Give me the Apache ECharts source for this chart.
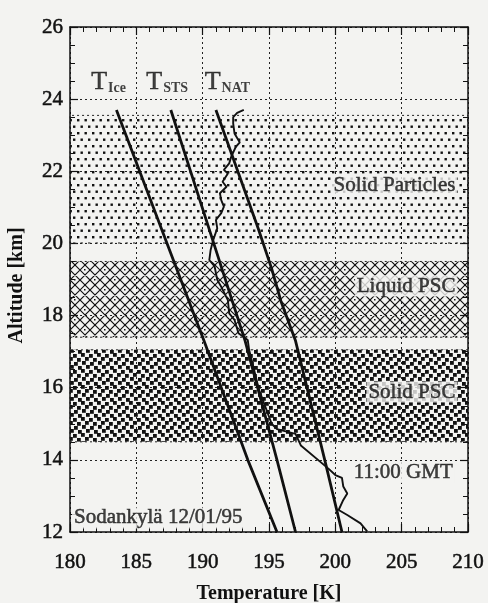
<!DOCTYPE html>
<html><head><meta charset="utf-8">
<script src="https://cdn.jsdelivr.net/npm/echarts@6/dist/echarts.min.js"></script>
<style>html,body{margin:0;padding:0;background:#f3f3f1;} #c{width:488px;height:603px;}</style>
</head><body><div id="c"></div>
<script>
// ---- data ----
const xTicks = [180, 185, 190, 195, 200, 205, 210];
const yTicks = [12, 14, 16, 18, 20, 22, 24, 26];

const tIceTemp = [183.5, 186.9, 190.1, 193.4, 195.6];
const tIceAlt  = [23.7, 20.4, 17.3, 14.0, 12.0];

const tStsTemp = [187.6, 190.4, 193.2, 194.8, 195.6, 197.0];
const tStsAlt  = [23.7, 20.5, 17.3, 15.1, 14.0, 12.0];

const tNatTemp = [191.0, 194.2, 195.2, 195.9, 197.0, 198.4, 199.2, 200.5];
const tNatAlt  = [23.7, 20.4, 19.3, 18.4, 17.3, 15.2, 14.0, 12.0];

const profTemp = [193.1, 192.6, 192.3, 192.3, 192.4, 192.8, 192.5, 192.15, 192.0, 191.6, 191.9, 191.5, 191.8, 191.3, 191.4, 191.6, 191.4, 191.0, 191.1, 190.8, 190.6, 190.5, 190.9, 191.1, 191.4, 191.9, 192.0, 192.4, 192.7, 193.4, 193.5, 194.25, 195.2, 195.6, 197.0, 197.4, 199.5, 200.0, 200.5, 200.6, 200.9, 200.6, 200.25, 200.9, 201.9, 202.4];
const profAlt  = [23.70, 23.62, 23.50, 23.33, 23.05, 22.80, 22.68, 22.40, 22.22, 22.04, 21.94, 21.71, 21.57, 21.39, 21.20, 21.02, 20.84, 20.65, 20.42, 20.10, 19.82, 19.54, 19.36, 18.99, 18.80, 18.43, 18.06, 17.88, 17.51, 17.32, 17.05, 15.94, 15.00, 14.85, 14.72, 14.40, 13.75, 13.58, 13.50, 13.26, 13.07, 12.89, 12.61, 12.47, 12.24, 12.02];

const bandNames  = ['Solid Particles', 'Liquid PSC', 'Solid PSC'];
const bandBottom = [20.0, 17.4, 14.5];
const bandTop    = [23.55, 19.5, 17.05];

const curveNames = ['Ice', 'STS', 'NAT'];
const timeLabel = '11:00 GMT';
const siteLabel = 'Sodankylä 12/01/95';

// ---- patterns ----
const INK = '#111';
function tile(w, h, draw) {
  const c = document.createElement('canvas');
  c.width = w; c.height = h;
  const g = c.getContext('2d');
  draw(g, w, h);
  return { image: c, repeat: 'repeat' };
}
function wrapRect(g, x, y, s, w, h) {
  for (const dx of [-w, 0, w]) for (const dy of [-h, 0, h]) g.fillRect(x + dx, y + dy, s, s);
}
const dotPattern = tile(15, 13, (g, w, h) => {
  g.fillStyle = INK;
  [[2, 2], [9.5, 2], [5.5, 8.5], [13, 8.5]].forEach(p => wrapRect(g, p[0], p[1], 2.4, w, h));
});
const hatchPattern = tile(20, 20, (g, w, h) => {
  g.strokeStyle = INK; g.lineWidth = 1.2;
  g.beginPath();
  for (let k = -20; k <= 40; k += 10) {
    g.moveTo(k - 2, -2); g.lineTo(k + 22, 22);
    g.moveTo(k + 2, -2); g.lineTo(k - 22, 22);
  }
  g.stroke();
  g.fillStyle = INK;
  wrapRect(g, 4, 9, 1.5, w, h);
  wrapRect(g, 14, 19, 1.5, w, h);
});
const squarePattern = tile(16, 16, (g, w, h) => {
  g.fillStyle = INK;
  [[1, 1], [9, 2], [5, 5], [13, 6], [2, 9], [10, 10], [6, 13], [14, 14]].forEach(p => wrapRect(g, p[0], p[1], 3.8, w, h));
});
const bandPatterns = [dotPattern, hatchPattern, squarePattern];

// ---- helpers ----
const zip = (a, b) => a.map((v, i) => [v, b[i]]);
const FONT = 'Liberation Serif';
const BG = '#f3f3f1';
const bold = { textBorderColor: INK, textBorderWidth: 0.5 };

const chart = echarts.init(document.getElementById('c'), null, { renderer: 'canvas' });

const axisCommon = {
  type: 'value',
  axisLine: { show: true, onZero: false, lineStyle: { color: INK, width: 1.5 } },
  axisTick: { show: true, inside: true, length: 8, lineStyle: { color: INK, width: 1.2 } },
  minorTick: { show: true, length: 5, lineStyle: { color: INK, width: 1 } },
  splitLine: { show: false },
  axisLabel: { show: false }
};

function lineSeries(name, t, a, width) {
  return {
    name, type: 'line', data: zip(t, a), showSymbol: false, symbol: 'none',
    lineStyle: { color: INK, width }, z: 5, silent: true, animation: false
  };
}

const annotations = [
  { value: [209.2, 21.6], text: bandNames[0], pos: 'left' },
  { value: [209.2, 18.82], text: bandNames[1], pos: 'left' },
  { value: [209.2, 15.88], text: bandNames[2], pos: 'left' },
  { value: [209.0, 13.65], text: timeLabel, pos: 'left' },
  { value: [180.15, 12.39], text: siteLabel, pos: 'right' }
];
const tLabels = [
  { value: [181.6, 24.5], sub: curveNames[0] },
  { value: [185.75, 24.5], sub: curveNames[1] },
  { value: [190.15, 24.5], sub: curveNames[2] }
];

const labelFont = Object.assign({ fontFamily: FONT, fontSize: 21, color: INK }, bold);
const titleFont = { fontFamily: FONT, fontSize: 20, fontWeight: 'bold', color: INK };

const option = {
  backgroundColor: BG,
  animation: false,
  textStyle: { fontFamily: FONT, color: INK },
  grid: { left: 70, right: 20, top: 27, bottom: 71, containLabel: false, outerBoundsMode: 'none' },
  xAxis: [
    Object.assign({}, axisCommon, {
      position: 'bottom', min: xTicks[0], max: xTicks[xTicks.length - 1], interval: 5,
      minorTick: Object.assign({}, axisCommon.minorTick, { splitNumber: 5 }),
      axisLabel: Object.assign({ show: true, margin: 20 }, labelFont),
      splitLine: { show: true, lineStyle: { color: '#222', width: 1, type: [2, 3] } },
      name: 'Temperature [K]', nameLocation: 'middle', nameGap: 52,
      nameTextStyle: titleFont
    }),
    Object.assign({}, axisCommon, {
      position: 'top', min: xTicks[0], max: xTicks[xTicks.length - 1], interval: 5,
      minorTick: Object.assign({}, axisCommon.minorTick, { splitNumber: 5 })
    })
  ],
  yAxis: [
    Object.assign({}, axisCommon, {
      position: 'left', min: yTicks[0], max: yTicks[yTicks.length - 1], interval: 2,
      minorTick: Object.assign({}, axisCommon.minorTick, { splitNumber: 4 }),
      axisLabel: Object.assign({ show: true, margin: 7 }, labelFont),
      splitLine: { show: true, lineStyle: { color: '#222', width: 1, type: [2, 3] } },
      name: 'Altitude [km]', nameLocation: 'middle', nameGap: 43, nameRotate: 90,
      nameTextStyle: Object.assign({ padding: [0, 12, 0, 0] }, titleFont)
    }),
    Object.assign({}, axisCommon, {
      position: 'right', min: yTicks[0], max: yTicks[yTicks.length - 1], interval: 2,
      minorTick: Object.assign({}, axisCommon.minorTick, { splitNumber: 4 })
    })
  ],
  series: [
    {
      name: 'bands', type: 'line', data: [], z: 1, silent: true,
      markArea: {
        silent: true,
        emphasis: { disabled: true },
        data: bandNames.map((n, i) => [
          { yAxis: bandBottom[i], itemStyle: { color: bandPatterns[i], opacity: 1, borderColor: '#222', borderWidth: 1, borderType: [2, 3] } },
          { yAxis: bandTop[i] }
        ])
      }
    },
    lineSeries('T_Ice', tIceTemp, tIceAlt, 2.8),
    lineSeries('T_STS', tStsTemp, tStsAlt, 2.8),
    lineSeries('T_NAT', tNatTemp, tNatAlt, 2.8),
    lineSeries('profile', profTemp, profAlt, 1.9),
    {
      name: 'annotations', type: 'scatter', symbolSize: 0, z: 10, silent: true,
      data: annotations.map(a => ({
        value: a.value,
        label: Object.assign({
          show: true, position: a.pos, distance: 0, formatter: a.text,
          backgroundColor: BG, padding: [0, 2, 0, 2]
        }, labelFont)
      }))
    },
    {
      name: 'curveLabels', type: 'scatter', symbolSize: 0, z: 10, silent: true,
      data: tLabels.map(a => ({
        value: a.value,
        label: {
          show: true, position: 'right', distance: 0,
          formatter: '{t|T}{s|' + a.sub + '}',
          rich: {
            t: Object.assign({ fontFamily: FONT, fontSize: 26, color: INK, verticalAlign: 'bottom', lineHeight: 28 }, bold),
            s: { fontFamily: FONT, fontSize: 14, fontWeight: 'bold', color: INK, verticalAlign: 'bottom', lineHeight: 14, padding: [0, 0, 0, 1] }
          }
        }
      }))
    }
  ]
};
chart.setOption(option);
</script>
</body></html>
